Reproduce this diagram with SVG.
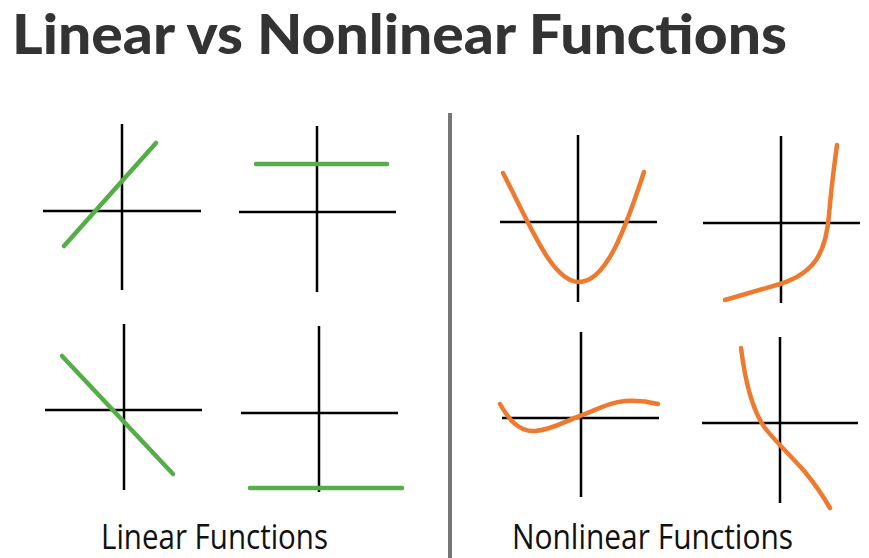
<svg xmlns="http://www.w3.org/2000/svg" width="869" height="558" viewBox="0 0 869 558">
<style>
.axis{stroke:#000;stroke-width:2.5;fill:none}
.lin{stroke:#55AD48;stroke-width:4.5;stroke-linecap:round;fill:none}
.nl{stroke:#EE7A30;stroke-width:4.5;stroke-linecap:round;stroke-linejoin:round;fill:none}
.title{font-family:Lato,"Open Sans",sans-serif;font-weight:900;font-size:55px;fill:#333}
.label{font-family:"Open Sans","Noto Sans",sans-serif;font-size:34px;fill:#111}
</style>
<rect width="869" height="558" fill="#fff"/>
<text class="title" x="12" y="54" textLength="775" lengthAdjust="spacingAndGlyphs">Linear vs Nonlinear Functions</text>
<line x1="450" y1="113" x2="450" y2="558" stroke="#777" stroke-width="4"/>
<g id="plot-linear-1">
<path class="axis" d="M122,124V290M43,211H201"/>
<line class="lin" x1="64" y1="246" x2="156" y2="143"/>
</g>
<g id="plot-linear-2">
<path class="axis" d="M317,126V292M239,212H396"/>
<line class="lin" x1="256" y1="164" x2="387" y2="164"/>
</g>
<g id="plot-linear-3">
<path class="axis" d="M124,324V490M45,410H202"/>
<line class="lin" x1="62" y1="356" x2="173" y2="474"/>
</g>
<g id="plot-linear-4">
<path class="axis" d="M319,326V492M241,413H398"/>
<line class="lin" x1="250" y1="488" x2="402" y2="488"/>
</g>
<g id="plot-nonlinear-1">
<path class="axis" d="M578,135V302M500,222H657"/>
<path class="nl" d="M503,173C530,225 552,282 579,282C606,282 625,230 644,172"/>
</g>
<g id="plot-nonlinear-2">
<path class="axis" d="M781,136V303M703,223H860"/>
<path class="nl" d="M725,300L780,284C815,273 826,252 829,215C832,180 835,160 837,145"/>
</g>
<g id="plot-nonlinear-3">
<path class="axis" d="M581,332V497M502,418H659"/>
<path class="nl" d="M500,404C508,418 518,432 535,431C552,430 565,421 580,416C600,408 612,402 625,401C640,400 650,402 658,404"/>
</g>
<g id="plot-nonlinear-4">
<path class="axis" d="M780,337V503M702,423H858"/>
<path class="nl" d="M741,348C745,380 752,410 765,428C775,441 790,455 805,472C815,484 823,496 830,508"/>
</g>
<text class="label" x="101" y="549" textLength="227" lengthAdjust="spacingAndGlyphs">Linear Functions</text>
<text class="label" x="512" y="549" textLength="281" lengthAdjust="spacingAndGlyphs">Nonlinear Functions</text>
</svg>
